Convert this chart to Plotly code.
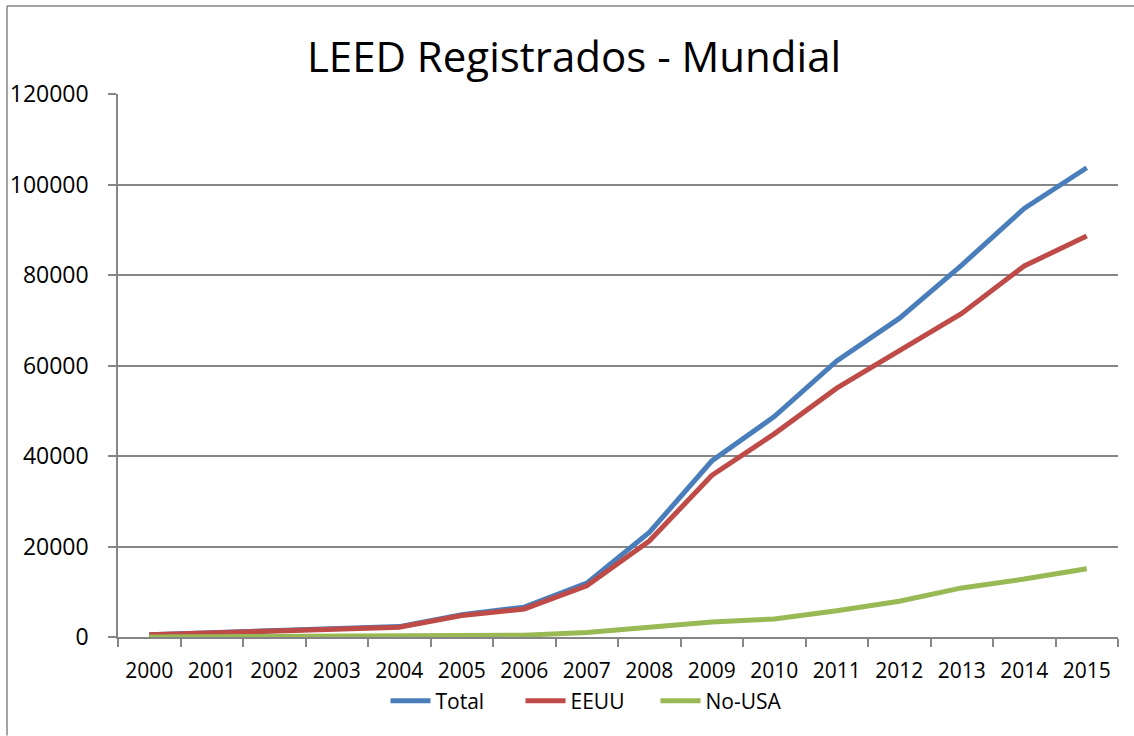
import plotly.graph_objects as go

years = list(range(2000, 2016))
total = [500, 900, 1300, 1700, 2300, 4900, 6600, 11900, 23100, 38900, 48700, 61000, 70400, 82200, 94700, 103700]
eeuu = [480, 840, 1200, 1580, 2170, 4740, 6200, 11300, 21200, 35700, 44900, 55000, 63400, 71500, 82000, 88600]
no_usa = [20, 60, 100, 120, 130, 160, 400, 1000, 2200, 3300, 4000, 5800, 7900, 10850, 12800, 15100]
y_ticks = [0, 20000, 40000, 60000, 80000, 100000, 120000]

series = [("Total", total, "#4A7EBB"), ("EEUU", eeuu, "#BE4B48"), ("No-USA", no_usa, "#98B954")]

fig = go.Figure()
for name, vals, col in series:
    fig.add_trace(go.Scatter(x=years, y=vals, name=name, mode="lines",
                             line=dict(color=col, width=5)))

boundaries = [y - 0.5 for y in years] + [years[-1] + 0.5]

font = "Open Sans, Noto Sans, sans-serif"
axis_col = "#868686"
fig.update_layout(
    width=1134, height=736,
    margin=dict(l=118, r=16, t=94, b=98.5, autoexpand=False),
    paper_bgcolor="white", plot_bgcolor="white",
    title=dict(text="LEED Registrados - Mundial", x=574 / 1134, xanchor="center", xref="container",
               y=(736 - 57) / 736, yanchor="middle",
               font=dict(family=font, size=42, color="black")),
    font=dict(family=font, size=21, color="black"),
    showlegend=True,
    legend=dict(orientation="h", x=0.47, xanchor="center", y=-0.118, yanchor="middle",
                font=dict(size=21, color="black"), itemwidth=40, tracegroupgap=0,
                entrywidth=80, entrywidthmode="pixels"),
    xaxis=dict(showline=True, linecolor=axis_col, linewidth=1.5,
               tickvals=years, ticktext=[str(y) for y in years], ticks="",
               minor=dict(tickvals=boundaries, ticks="outside", ticklen=8,
                          tickcolor=axis_col, tickwidth=1.5, showgrid=False),
               showgrid=False, zeroline=False, ticklabelstandoff=14,
               tickfont=dict(size=21), range=[years[0] - 0.5, years[-1] + 0.5]),
    yaxis=dict(range=[0, 120000], tickvals=y_ticks, ticktext=[str(v) for v in y_ticks],
               showline=True, linecolor=axis_col, linewidth=1.5,
               ticks="outside", ticklen=8, tickcolor=axis_col, tickwidth=1.5,
               showgrid=True, gridcolor=axis_col, gridwidth=1.5, zeroline=False,
               ticklabelstandoff=15, tickfont=dict(size=23)),
)

# chart-area border (left and top edges visible in the reference)
fig.add_shape(type="line", xref="paper", yref="paper",
              x0=(7 - 118) / 1000, x1=(1134 - 118) / 1000,
              y0=(637.5 - 6) / 543.5, y1=(637.5 - 6) / 543.5,
              line=dict(color=axis_col, width=1.5))
fig.add_shape(type="line", xref="paper", yref="paper",
              x0=(7 - 118) / 1000, x1=(7 - 118) / 1000,
              y0=(637.5 - 6) / 543.5, y1=(637.5 - 736) / 543.5,
              line=dict(color=axis_col, width=1.5))

fig.write_html("out.html", config={"displayModeBar": False},
               post_script="document.body.style.margin='0px';document.body.style.overflow='hidden';")
